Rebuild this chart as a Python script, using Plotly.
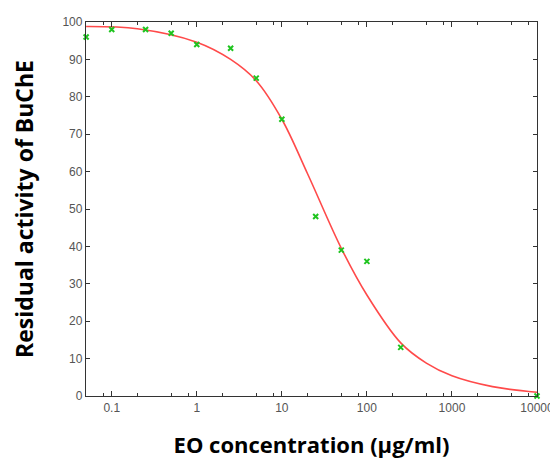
import plotly.graph_objects as go

# Measured data points
conc = [0.05, 0.1, 0.25, 0.5, 1, 2.5, 5, 10, 25, 50, 100, 250, 10000]
activity = [96, 98, 98, 97, 94, 93, 85, 74, 48, 39, 36, 13, 0]

# Fitted curve
curve_x = [0.05, 0.2, 1, 2.5, 5, 10, 20, 50, 100, 250, 500, 1000, 3000, 10000]
curve_y = [98.8, 98.2, 94.6, 90.0, 84.3, 74.0, 59.5, 39.5, 27.0, 14.2, 8.8, 5.4, 2.5, 1.0]

x_ticks = [0.1, 1, 10, 100, 1000, 10000]
x_tick_text = ["0.1", "1", "10", "100", "1000", "10000"]
x_minor = [0.08, 0.2, 0.5, 0.8, 2, 5, 8, 20, 50, 80, 200, 500, 800, 2000, 5000, 8000]
y_ticks = [0, 10, 20, 30, 40, 50, 60, 70, 80, 90, 100]

fig = go.Figure()
fig.add_trace(go.Scatter(x=curve_x, y=curve_y, mode="lines", line=dict(color="#ff4a4a", width=1.6, shape="spline", smoothing=1.0),
                         hoverinfo="skip", showlegend=False, cliponaxis=True))
fig.add_trace(go.Scatter(x=conc, y=activity, mode="markers",
                         marker=dict(symbol="x-thin", size=5, line=dict(color="#1fc41f", width=2), color="#1fc41f"),
                         showlegend=False, cliponaxis=False))

axis_common = dict(showline=True, linecolor="#333", linewidth=1.3, mirror="ticks", ticks="inside",
                   tickcolor="#333", showgrid=False, zeroline=False, automargin=False,
                   tickfont=dict(family="Liberation Sans, Arial, sans-serif", size=12, color="#555"))

# page body has an 8px margin; the figure is sized to compensate
fig.update_layout(
    width=550, height=451,
    margin=dict(l=78, r=21, t=14, b=63),
    paper_bgcolor="white", plot_bgcolor="white",
    xaxis=dict(type="log", range=[-1.3025, 4.0], tickmode="array", tickvals=x_ticks, ticktext=x_tick_text,
               ticklen=5, tickwidth=1.3,
               minor=dict(tickmode="array", tickvals=x_minor, ticks="inside", ticklen=3, tickcolor="#333", tickwidth=1),
               title=dict(text="<b>EO concentration (μg/ml)</b>", standoff=30,
                          font=dict(family="Open Sans, Noto Sans, sans-serif", size=22, color="black")),
               **axis_common),
    yaxis=dict(range=[0, 100], tickmode="array", tickvals=y_ticks, ticklen=4, tickwidth=1.3,
               title=dict(text="<b>Residual activity of BuChE</b>", standoff=33,
                          font=dict(family="Open Sans, Noto Sans, sans-serif", size=23, color="black")),
               **axis_common),
)

fig.write_html("out.html")
